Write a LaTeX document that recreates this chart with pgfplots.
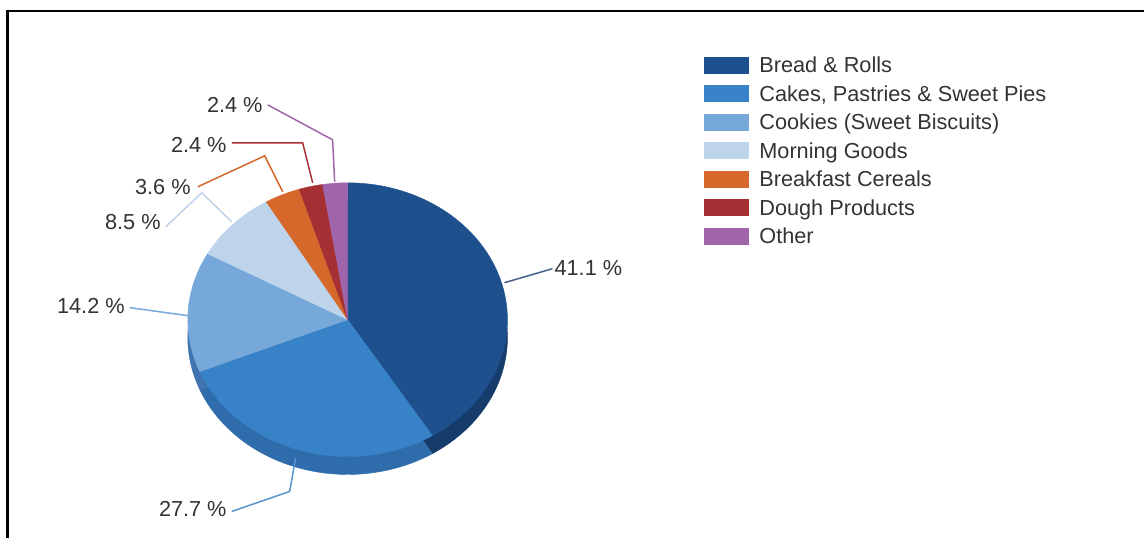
\documentclass[border=0pt]{standalone}
\usepackage{pgfplots}
\pgfplotsset{compat=1.18}
\usepackage{fontspec}
\setmainfont{Liberation Sans}
\definecolor{cBread}{HTML}{1E508E}
\definecolor{cCakes}{HTML}{3882C8}
\definecolor{cCookies}{HTML}{76A8DA}
\definecolor{cMorning}{HTML}{BED4EB}
\definecolor{cBreakfast}{HTML}{D6682C}
\definecolor{cDough}{HTML}{A43034}
\definecolor{cOther}{HTML}{A064AA}
\definecolor{sBread}{HTML}{163C6C}
\definecolor{sCakes}{HTML}{2E6CAC}
\definecolor{sCookies}{HTML}{3F74B0}
\definecolor{txt}{HTML}{333333}
% shares in percent
\def\vBread{41.1}
\def\vCakes{27.7}
\def\vCookies{14.2}
\def\vMorning{8.5}
\def\vBreakfast{3.6}
\def\vDough{2.4}
\def\vOther{2.4}
\pgfmathsetmacro\aA{90}
\pgfmathsetmacro\aB{\aA-3.6*\vBread}
\pgfmathsetmacro\aC{\aB-3.6*\vCakes}
\pgfmathsetmacro\aD{\aC-3.6*\vCookies}
\pgfmathsetmacro\aE{\aD-3.6*\vMorning}
\pgfmathsetmacro\aF{\aE-3.6*\vBreakfast}
\pgfmathsetmacro\aG{\aF-3.6*\vDough}
\pgfmathsetmacro\aH{-270}
% wedge: from angle #1 to #2 (#1<#2), colour #3, centre y #4
\newcommand{\pieslice}[4]{%
  \addplot[fill=#3, draw=#3, line width=0.4bp, domain=#1:#2, samples=90, forget plot]
    ({348+160*cos(x)},{#4+137*sin(x)}) -- (axis cs:348,#4) -- cycle;}
\newcommand{\lab}{\fontsize{21.8}{26}\selectfont\color{txt}}
\newcommand{\legrow}[3]{%
  \fill[#1] (axis cs:705,{539-57-28.5*#3}) rectangle (axis cs:750,{539-74-28.5*#3});
  \node[anchor=base west, inner sep=0pt] at (axis cs:760,{539-73-28.5*#3}) {\lab #2};}
\begin{document}
\begin{tikzpicture}
\begin{axis}[width=1145bp,height=539bp,scale only axis,
  xmin=0,xmax=1145,ymin=0,ymax=539,hide axis,clip=false]
% extrusion (side of the pie)
\pieslice{\aB}{\aA}{sBread}{201}
\pieslice{\aC}{\aB}{sCakes}{201}
\pieslice{\aD}{\aC}{sCookies}{201}
% top face
\pieslice{\aB}{\aA}{cBread}{219}
\pieslice{\aC}{\aB}{cCakes}{219}
\pieslice{\aD}{\aC}{cCookies}{219}
\pieslice{\aE}{\aD}{cMorning}{219}
\pieslice{\aF}{\aE}{cBreakfast}{219}
\pieslice{\aG}{\aF}{cDough}{219}
\pieslice{\aH}{\aG}{cOther}{219}
% leader lines (y = 539 - pixel row)
\draw[cBread!60!gray, line width=1.5bp] (axis cs:505,256) -- (axis cs:553,270);
\draw[cCakes!85!white, line width=1.5bp] (axis cs:296,81) -- (axis cs:290,47) -- (axis cs:232,27);
\draw[cCookies, line width=1.5bp] (axis cs:188,223) -- (axis cs:130,231);
\draw[cMorning, line width=1.5bp] (axis cs:232,317) -- (axis cs:202,346) -- (axis cs:166,312);
\draw[cBreakfast, line width=1.5bp] (axis cs:283,347) -- (axis cs:265,383) -- (axis cs:198,352);
\draw[cDough, line width=1.5bp] (axis cs:313,356) -- (axis cs:303,396) -- (axis cs:232,396);
\draw[cOther, line width=1.5bp] (axis cs:335,357) -- (axis cs:333,399) -- (axis cs:268,434);
% labels
\node[anchor=west, inner sep=0pt] at (axis cs:555,271) {\lab 41.1 \%};
\node[anchor=east, inner sep=0pt] at (axis cs:227,29) {\lab 27.7 \%};
\node[anchor=east, inner sep=0pt] at (axis cs:125,233) {\lab 14.2 \%};
\node[anchor=east, inner sep=0pt] at (axis cs:161,317) {\lab 8.5 \%};
\node[anchor=east, inner sep=0pt] at (axis cs:191,352) {\lab 3.6 \%};
\node[anchor=east, inner sep=0pt] at (axis cs:227,394) {\lab 2.4 \%};
\node[anchor=east, inner sep=0pt] at (axis cs:263,434) {\lab 2.4 \%};
% legend
\legrow{cBread}{Bread \& Rolls}{0}
\legrow{cCakes}{Cakes, Pastries \& Sweet Pies}{1}
\legrow{cCookies}{Cookies (Sweet Biscuits)}{2}
\legrow{cMorning}{Morning Goods}{3}
\legrow{cBreakfast}{Breakfast Cereals}{4}
\legrow{cDough}{Dough Products}{5}
\legrow{cOther}{Other}{6}
% frame
\draw[black, line width=2.5bp] (axis cs:7.5,0) -- (axis cs:7.5,528) -- (axis cs:1145,528);
\path (axis cs:0,0) (axis cs:1145,539);
\end{axis}
\end{tikzpicture}
\end{document}
